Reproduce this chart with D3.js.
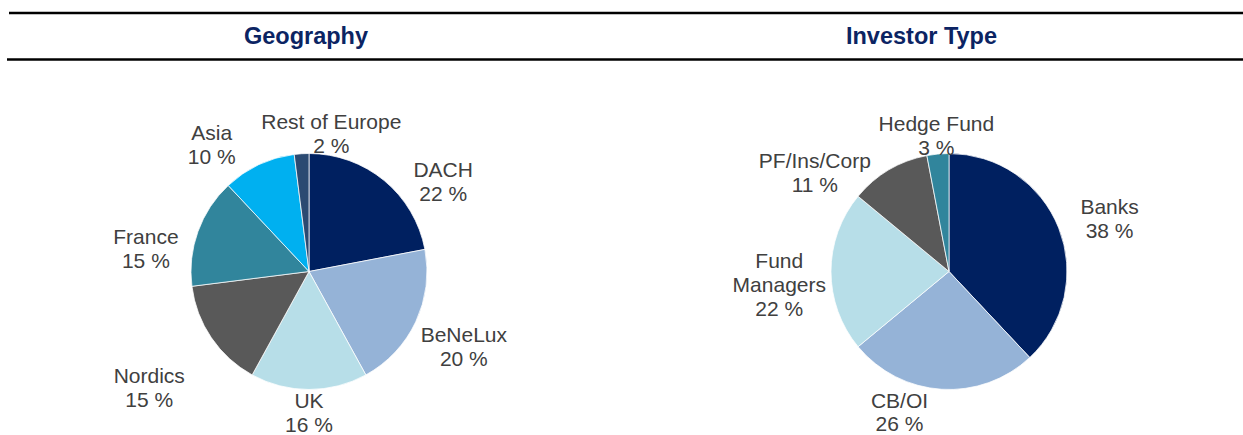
<!DOCTYPE html>
<html lang="en">
<head>
    <meta charset="UTF-8">
    <title>Geography / Investor Type</title>
    <style>
        html,
        body {
            margin: 0;
            height: 100%;
            overflow: hidden;
            background: #fff;
        }
        text { font-family: "Liberation Sans", Arial, sans-serif; }
    </style>
    <script src="https://d3js.org/d3.v7.min.js"></script>
</head>
<body>
    <svg id="svg"></svg>
    <script>
        // data
        const geoNames = ['DACH', 'BeNeLux', 'UK', 'Nordics', 'France', 'Asia', 'Rest of Europe'];
        const geoValues = [22, 20, 16, 15, 15, 10, 2];
        const invNames = ['Banks', 'CB/OI', 'Fund\nManagers', 'PF/Ins/Corp', 'Hedge Fund'];
        const invValues = [38, 26, 22, 11, 3];
        const panelTitles = ['Geography', 'Investor Type'];

        const width = 1243, height = 435;
        const svg = d3.select('#svg').attr('width', width).attr('height', height);

        // header rules
        svg.append('line').attr('x1', 9).attr('x2', width).attr('y1', 13).attr('y2', 13)
            .attr('stroke', '#000').attr('stroke-width', 2.5);
        svg.append('line').attr('x1', 7).attr('x2', width).attr('y1', 59.5).attr('y2', 59.5)
            .attr('stroke', '#000').attr('stroke-width', 2.5);

        const titleX = [306, 921.5];
        svg.selectAll('.title').data(panelTitles).join('text').attr('class', 'title')
            .attr('x', (d, i) => titleX[i]).attr('y', 44)
            .attr('text-anchor', 'middle')
            .attr('font-size', 23.5).attr('font-weight', 'bold')
            .attr('fill', '#0b2463')
            .text(d => d);

        const radius = 118;
        const fontSize = 21, lineH = 24;

        function drawPie(cx, cy, names, values, colors, nudges) {
            const g = svg.append('g').attr('transform', `translate(${cx},${cy})`);
            const data = names.map((n, i) => ({ name: n, value: values[i] }));
            const pie = d3.pie().sort(null).value(d => d.value)(data);
            const arc = d3.arc().innerRadius(0).outerRadius(radius);
            const color = d3.scaleOrdinal().domain(names).range(colors);

            g.selectAll('path').data(pie).join('path')
                .attr('d', arc)
                .attr('fill', d => color(d.data.name))
                .attr('stroke', '#fff')
                .attr('stroke-width', 0.75);

            // labels outside the slice, pushed out by their own box size
            const labels = g.selectAll('.lbl').data(pie).join('text').attr('class', 'lbl')
                .attr('font-size', fontSize).attr('fill', '#404040')
                .attr('text-anchor', 'middle');
            labels.each(function (d, i) {
                const lines = d.data.name.split('\n').concat([d.data.value + ' %']);
                const t = d3.select(this);
                t.selectAll('tspan').data(lines).join('tspan')
                    .attr('x', 0)
                    .attr('y', (l, j) => (j - (lines.length - 1) / 2) * lineH + fontSize * 0.36)
                    .text(l => l);
                const bb = this.getBBox();
                const a = (d.startAngle + d.endAngle) / 2;
                const ux = Math.sin(a), uy = -Math.cos(a);
                const h = lines.length * lineH;
                const dist = radius + 8 + Math.abs(ux) * bb.width / 2 + Math.abs(uy) * h / 2;
                const nx = ux * dist + nudges[i][0];
                const ny = uy * dist + nudges[i][1];
                t.attr('transform', `translate(${nx},${ny})`);
            });
        }

        drawPie(309, 271.5, geoNames, geoValues,
            ['#002060', '#95b3d7', '#b7dee8', '#595959', '#31859c', '#00b0f0', '#2b4a72'],
            [[30, 36], [-4, 0], [0, -9], [-20, 21], [-8, 33], [-30, 16], [32, 16]]);

        drawPie(949, 271.5, invNames, invValues,
            ['#002060', '#95b3d7', '#b7dee8', '#595959', '#31859c'],
            [[10, 7], [-40, -11], [3, 13], [-45, 52], [2, 19]]);
    </script>
</body>
</html>
